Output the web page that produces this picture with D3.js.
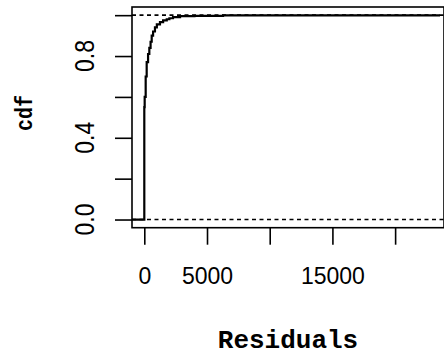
<!DOCTYPE html>
<html>
<head>
<meta charset="utf-8">
<script src="https://cdn.jsdelivr.net/npm/d3@7"></script>
<style>
  body { margin: 0; background: #fff; }
  svg { display: block; }
</style>
</head>
<body>
<svg width="444" height="357"></svg>
<script>
// ECDF of residuals
const residuals = [-981, 0, 30, 110, 190, 300, 400, 500, 590, 700, 850, 1000, 1250, 1500, 1790, 2000, 2290, 2850, 4000, 6280, 23580];
const cdf = [0, 0.55, 0.6, 0.7, 0.77, 0.81, 0.84, 0.87, 0.9, 0.92, 0.94, 0.955, 0.966, 0.975, 0.98, 0.985, 0.99, 0.995, 0.997, 0.999, 0.999];
const xTicks = [0, 5000, 10000, 15000, 20000];
const xLabels = ["0", "5000", "", "15000", ""];
const yTicks = [0, 0.2, 0.4, 0.6, 0.8, 1.0];
const yLabels = ["0.0", "", "0.4", "", "0.8", ""];

const svg = d3.select("svg");
const plot = { left: 132, top: 7, right: 444, bottom: 227.7 };

const x = d3.scaleLinear().domain([-981, 23898]).range([plot.left, plot.right]);
const y = d3.scaleLinear().domain([-0.04, 1.04]).range([plot.bottom, plot.top]);

const points = residuals.map((r, i) => ({ r: r, p: cdf[i] }));

// dashed reference lines at 0 and 1
svg.selectAll(".ref")
  .data([0, 1])
  .enter().append("line")
  .attr("x1", plot.left).attr("x2", plot.right)
  .attr("y1", d => y(d)).attr("y2", d => y(d))
  .attr("stroke", "#000")
  .attr("stroke-width", 1.6)
  .attr("stroke-dasharray", "4,3.5");

// step function
const line = d3.line()
  .x(d => x(d.r))
  .y(d => y(d.p))
  .curve(d3.curveStepAfter);

svg.append("path")
  .datum(points)
  .attr("d", line)
  .attr("fill", "none")
  .attr("stroke", "#000")
  .attr("stroke-width", 2.2);

// frame
svg.append("rect")
  .attr("x", plot.left).attr("y", plot.top)
  .attr("width", plot.right - plot.left)
  .attr("height", plot.bottom - plot.top)
  .attr("fill", "none")
  .attr("stroke", "#000")
  .attr("stroke-width", 1.6);

// x axis
const xAxis = svg.append("g")
  .attr("transform", `translate(0,${plot.bottom})`)
  .call(d3.axisBottom(x).tickValues(xTicks).tickSize(17).tickFormat((d, i) => xLabels[i]));
xAxis.select(".domain").remove();
xAxis.selectAll(".tick line").attr("stroke", "#000").attr("stroke-width", 1.6);
xAxis.selectAll(".tick text")
  .attr("y", 56)
  .attr("dy", 0)
  .attr("fill", "#000")
  .style("font-family", "'Liberation Sans', Arial, sans-serif")
  .style("font-size", "23px");

// y axis
const yAxis = svg.append("g")
  .attr("transform", `translate(${plot.left},0)`)
  .call(d3.axisLeft(y).tickValues(yTicks).tickSize(17).tickFormat(""));
yAxis.select(".domain").remove();
yAxis.selectAll(".tick line").attr("stroke", "#000").attr("stroke-width", 1.6);

svg.selectAll(".ylab")
  .data(yTicks.filter((d, i) => yLabels[i] !== ""))
  .enter().append("text")
  .attr("transform", d => `translate(94,${y(d)}) scale(1.2,1) rotate(-90)`)
  .attr("text-anchor", "middle")
  .attr("fill", "#000")
  .style("font-family", "'Liberation Sans', Arial, sans-serif")
  .style("font-size", "23px")
  .text(d => yLabels[yTicks.indexOf(d)]);

// axis titles
svg.append("text")
  .attr("x", (plot.left + plot.right) / 2)
  .attr("y", 348)
  .attr("text-anchor", "middle")
  .style("font-family", "'Liberation Mono', 'Courier New', monospace")
  .style("font-weight", "bold")
  .style("font-size", "26px")
  .text("Residuals");

svg.append("text")
  .attr("transform", `translate(32,113) scale(1.2,1) rotate(-90)`)
  .attr("text-anchor", "middle")
  .style("font-family", "'Liberation Mono', 'Courier New', monospace")
  .style("font-weight", "bold")
  .style("font-size", "20px")
  .text("cdf");
</script>
</body>
</html>
